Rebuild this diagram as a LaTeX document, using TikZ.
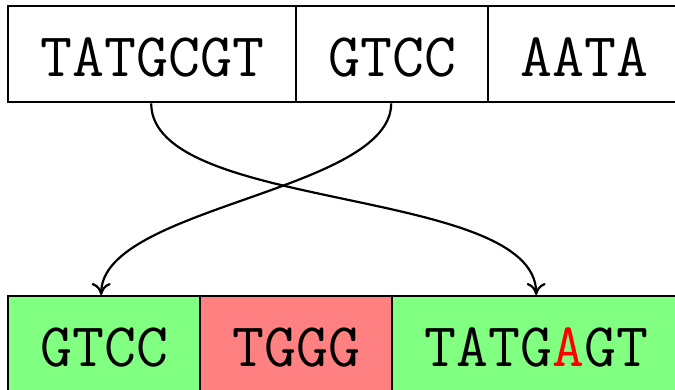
\documentclass[tikz,border=0pt]{standalone}
\usepackage{fontspec}
\setmonofont{Latin Modern Mono}
\usetikzlibrary{arrows.meta}
\definecolor{okgreen}{HTML}{80FF80}
\definecolor{badred}{HTML}{FF8080}
\begin{document}
\begin{tikzpicture}[x=1pt,y=-1pt,
  seg/.style={draw=black, line width=2.4pt, minimum height=96pt, inner sep=0pt,
    font=\fontsize{62}{70}\selectfont\ttfamily, text height=44pt, text depth=0pt, anchor=north west},
  link/.style={line width=2.2pt, -{To[length=12pt,width=19pt]}}]
\useasboundingbox (0,0) rectangle (675,389);
\node[seg, minimum width=288pt] (t1) at (7,5) {TATGCGT};
\node[seg, minimum width=192pt] (t2) at (295,5) {GTCC};
\node[seg, minimum width=192pt] (t3) at (487,5) {AATA};
\node[seg, fill=okgreen, minimum width=192pt] (b1) at (7,295) {GTCC};
\node[seg, fill=badred, minimum width=192pt] (b2) at (199,295) {TGGG};
\node[seg, fill=okgreen, minimum width=288pt] (b3) at (391,295) {TATG\textcolor{red}{A}GT};
\coordinate (s1) at ([xshift=-1pt]t1.south);
\coordinate (e1) at (b3.north);
\coordinate (s2) at ([xshift=-1pt]t2.south);
\coordinate (e2) at ([xshift=-3pt]b1.north);
\draw[link] (s1) to[out=-90, in=90, looseness=0.65] (e1);
\draw[link] (s2) to[out=-90, in=90, looseness=0.65] (e2);
\end{tikzpicture}
\end{document}
